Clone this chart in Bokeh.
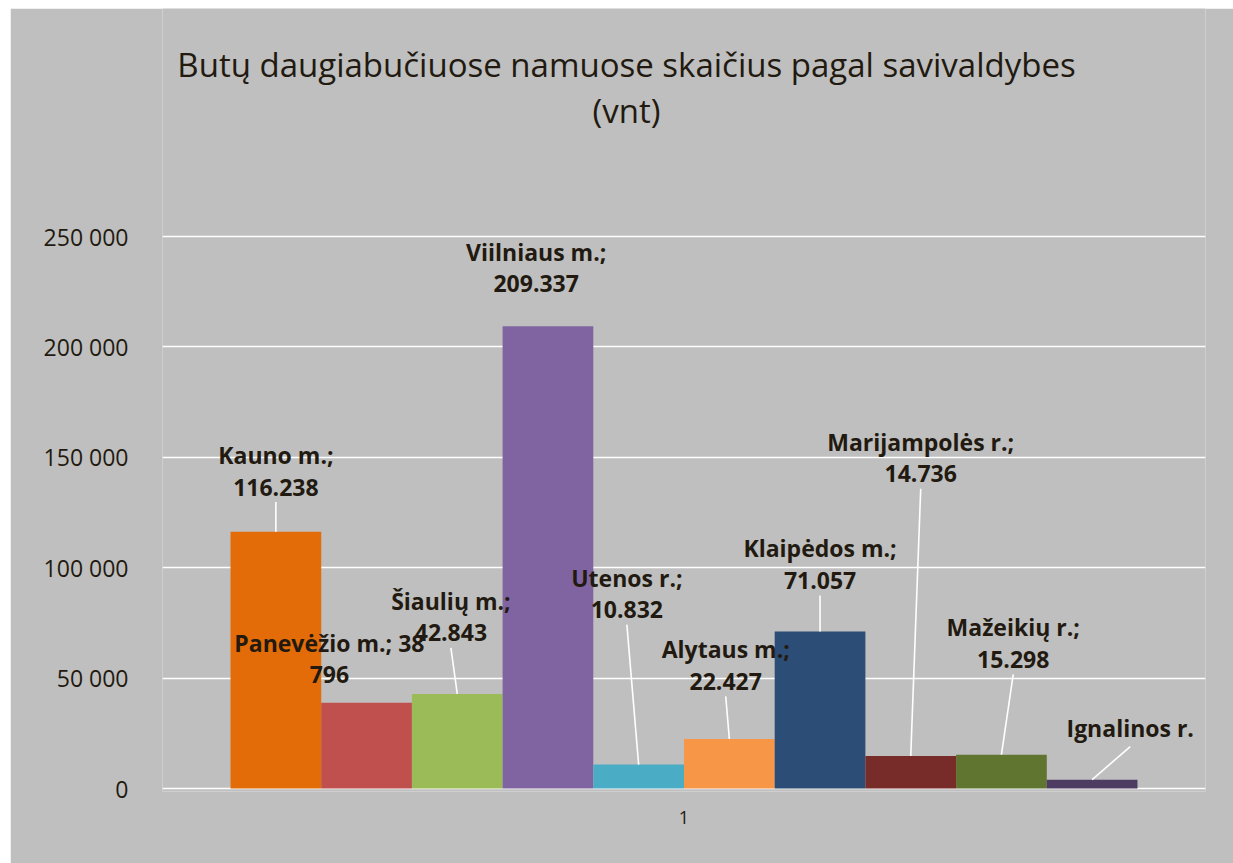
from bokeh.plotting import figure
from bokeh.models import FixedTicker, Range1d, Spacer, Column, Row
from bokeh.core.properties import value
from bokeh.embed import file_html
from bokeh.resources import INLINE

# ---------------- data ----------------
category = ["1"]
names = ["Kauno m.", "Panevėžio m.", "Šiaulių m.", "Viilniaus m.", "Utenos r.",
         "Alytaus m.", "Klaipėdos m.", "Marijampolės r.", "Mažeikių r.", "Ignalinos r."]
values = [116238, 38796, 42843, 209337, 10832, 22427, 71057, 14736, 15298, 4000]
colors = ["#E36C09", "#C0504D", "#9BBB59", "#8064A2", "#4BACC6",
          "#F79646", "#2C4D75", "#772C2A", "#5F7530", "#4D3B62"]
label_line1 = ["Kauno m.;", "Panevėžio m.; 38", "Šiaulių m.;", "Viilniaus m.;", "Utenos r.;",
               "Alytaus m.;", "Klaipėdos m.;", "Marijampolės r.;", "Mažeikių r.;", "Ignalinos r."]
label_line2 = ["116.238", "796", "42.843", "209.337", "10.832",
               "22.427", "71.057", "14.736", "15.298", ""]
y_ticks = [0, 50000, 100000, 150000, 200000, 250000]
y_tick_labels = ["0", "50 000", "100 000", "150 000", "200 000", "250 000"]
title_lines = ["Butų daugiabučiuose namuose skaičius pagal savivaldybes", "(vnt)"]

# ---------------- layout ----------------
PAD_LEFT, PAD_TOP = 10, 8
W, H = 1233 - PAD_LEFT, 863 - PAD_TOP
ZERO_PX_FROM_TOP = 780               # canvas y of the zero line
BELOW_ZERO_PX = 3
FRAME_BOTTOM_BORDER = H - ZERO_PX_FROM_TOP - BELOW_ZERO_PX
AXIS_MAX = 250000
AXIS_PX = 552                       # pixel height of 0..250000
per_px = AXIS_MAX / AXIS_PX
y_end = ZERO_PX_FROM_TOP * per_px
y_start = -BELOW_ZERO_PX * per_px

gap_width = 0.15
n = len(values)
bw = 1.0 / (1 + gap_width) / n
bar_x = [0.5 + (i - (n - 1) / 2) * bw for i in range(n)]

# label placement (offset in bar widths, line-1 centre in value units)
label_dx = [0.0, -0.41, -0.07, -0.13, -0.13, -0.04, 0.0, 0.11, 0.13, 0.42]
label_y = [151000, 66000, 85000, 243000, 95500, 63000, 108700, 157000, 73000, 27600]
has_leader = [True, False, True, False, True, True, True, True, True, True]
line_gap_px = 32

TEXT = "#221a10"
FONT = "Open Sans"
BG = "#bfbfbf"

p = figure(width=W, height=H, output_backend="svg", toolbar_location=None,
           x_range=Range1d(0, 1), y_range=Range1d(y_start, y_end),
           min_border_left=152, min_border_right=28, min_border_top=0,
           min_border_bottom=FRAME_BOTTOM_BORDER)
p.background_fill_color = BG
p.border_fill_color = BG
p.outline_line_color = None

# axes
p.yaxis.ticker = FixedTicker(ticks=y_ticks)
p.yaxis.major_label_overrides = {t: l for t, l in zip(y_ticks, y_tick_labels)}
p.yaxis.axis_line_color = None
p.yaxis.major_tick_line_color = None
p.yaxis.minor_tick_line_color = None
p.yaxis.major_label_standoff = 28
p.yaxis.major_label_text_font = FONT
p.yaxis.major_label_text_font_size = "23px"
p.yaxis.major_label_text_color = TEXT

p.xaxis.ticker = FixedTicker(ticks=[0.5])
p.xaxis.major_label_overrides = {0.5: category[0]}
p.xaxis.axis_line_color = None
p.xaxis.major_tick_line_color = None
p.xaxis.minor_tick_line_color = None
p.xaxis.major_label_standoff = 13
p.xaxis.major_label_text_font = FONT
p.xaxis.major_label_text_font_size = "18px"
p.xaxis.major_label_text_color = TEXT

p.xgrid.grid_line_color = None
p.ygrid.grid_line_color = "white"
p.ygrid.grid_line_width = 1.6

# bars
p.vbar(x=bar_x, width=bw, top=values, bottom=0, fill_color=colors, line_color=None)

# leader lines
lx0, ly0, lx1, ly1 = [], [], [], []
for i in range(n):
    if not has_leader[i]:
        continue
    gap = 47 if label_line2[i] else 19
    lx0.append(bar_x[i] + label_dx[i] * bw)
    ly0.append(label_y[i] - gap * per_px)
    lx1.append(bar_x[i])
    ly1.append(values[i])
p.segment(x0=lx0, y0=ly0, x1=lx1, y1=ly1, line_color="white", line_width=1.6)

# data labels
lab_x = [bar_x[i] + label_dx[i] * bw for i in range(n)]
p.text(x=lab_x, y=label_y, text=label_line1, text_align="center", text_baseline="middle",
       text_font=value(FONT), text_font_style="bold", text_font_size="23px", text_color=TEXT)
p.text(x=lab_x, y=[v - line_gap_px * per_px for v in label_y], text=label_line2,
       text_align="center", text_baseline="middle",
       text_font=value(FONT), text_font_style="bold", text_font_size="23px", text_color=TEXT)

# title
title_x = [(626 - 162) / 1043] * 2
title_y = [(788 - 64) * per_px, (788 - 110) * per_px]
p.text(x=title_x, y=title_y, text=title_lines, text_align="center", text_baseline="alphabetic",
       text_font=value(FONT), text_font_size="33px", text_color=TEXT)

layout = Column(Spacer(height=PAD_TOP), Row(Spacer(width=PAD_LEFT), p))
open("out.html", "w").write(file_html(layout, INLINE))
